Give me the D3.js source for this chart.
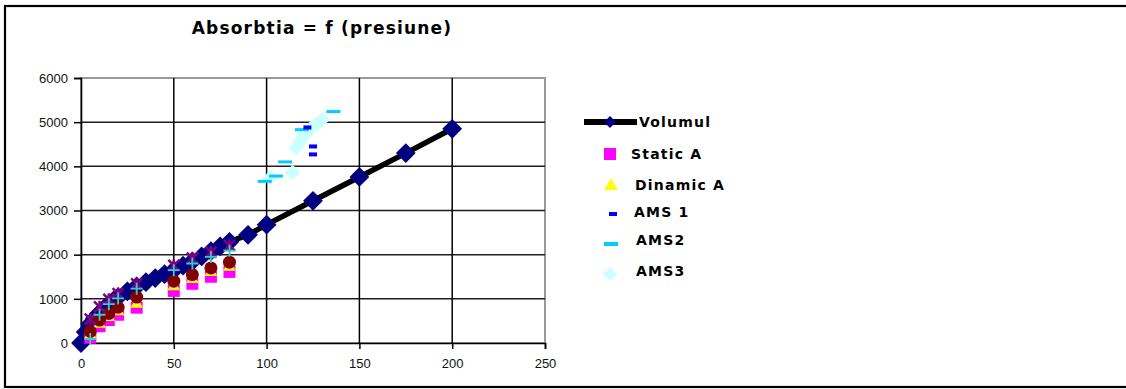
<!DOCTYPE html>
<html>
<head>
<meta charset="utf-8">
<script src="https://cdn.jsdelivr.net/npm/d3@7/dist/d3.min.js"></script>
<style>
  html, body { margin: 0; padding: 0; background: #fff; }
  svg { display: block; }
</style>
</head>
<body>
<svg id="chart" width="1126" height="389"></svg>
<script>
// Absorbtia vs presiune
const xTicks = [0, 50, 100, 150, 200, 250];
const yTicks = [0, 1000, 2000, 3000, 4000, 5000, 6000];

const volumulX = [0, 2.5, 5, 7.5, 10, 12.5, 15, 17.5, 20, 25, 30, 35, 40, 45, 50, 55, 60, 65, 70, 75, 80, 90, 100, 125, 150, 175, 200];
const volumulY = [0, 250, 430, 560, 680, 780, 880, 960, 1040, 1170, 1280, 1380, 1470, 1560, 1650, 1750, 1850, 1960, 2080, 2190, 2290, 2450, 2680, 3220, 3760, 4300, 4850];

const seriesX = [5, 10, 15, 20, 30, 50, 60, 70, 80];
const staticA  = [120, 380, 520, 640, 800, 1180, 1340, 1500, 1610];
const dinamicA = [180, 430, 580, 710, 880, 1280, 1440, 1600, 1720];
const staticB  = [260, 520, 670, 810, 1040, 1400, 1550, 1700, 1830];
const dinamicB = [540, 820, 990, 1120, 1340, 1760, 1920, 2060, 2210];
const medie    = [90, 640, 880, 1010, 1230, 1650, 1800, 1950, 2090];

const ams1X = [122, 125, 125];
const ams1Y = [4880, 4450, 4270];
const ams2X = [99, 105, 110, 119, 136];
const ams2Y = [3660, 3780, 4100, 4830, 5240];
const ams3X = [102, 114, 116, 118, 120, 122, 124, 127, 130];
const ams3Y = [3740, 3860, 4420, 4550, 4680, 4780, 4870, 4960, 5060];

const legendNames = ["Volumul", "Static A", "Dinamic A", "AMS 1", "AMS2", "AMS3"];

const svg = d3.select("#chart");

// outer frame
svg.append("rect")
  .attr("x", 5).attr("y", 6).attr("width", 1140).attr("height", 381)
  .attr("fill", "#fff").attr("stroke", "#000").attr("stroke-width", 2.2);

svg.append("text")
  .attr("x", 322).attr("y", 34)
  .attr("text-anchor", "middle")
  .attr("font-family", "DejaVu Sans, Verdana, sans-serif")
  .attr("font-weight", "bold")
  .attr("font-size", 17)
  .attr("letter-spacing", 1.2)
  .attr("fill", "#000")
  .text("Absorbtia = f (presiune)");

const x = d3.scaleLinear().domain([0, 250]).range([81, 545]);
const y = d3.scaleLinear().domain([0, 6000]).range([343, 78]);

const plot = svg.append("g");

// plot border (grey, top & right)
plot.append("rect")
  .attr("x", x(0)).attr("y", y(6000))
  .attr("width", x(250) - x(0)).attr("height", y(0) - y(6000))
  .attr("fill", "#fff").attr("stroke", "#9a9a9a").attr("stroke-width", 2);

// horizontal gridlines
plot.selectAll(".hg").data(yTicks.filter(d => d > 0 && d < 6000)).join("line")
  .attr("x1", x(0)).attr("x2", x(250))
  .attr("y1", d => y(d)).attr("y2", d => y(d))
  .attr("stroke", "#1e1e1e").attr("stroke-width", 1.5);

// vertical gridlines
plot.selectAll(".vg").data(xTicks.filter(d => d > 0 && d < 250)).join("line")
  .attr("x1", d => x(d)).attr("x2", d => x(d))
  .attr("y1", y(6000)).attr("y2", y(0))
  .attr("stroke", "#000").attr("stroke-width", 1.5);

// axes
const xAxis = d3.axisBottom(x).tickValues(xTicks).tickSize(6).tickPadding(10).tickFormat(d3.format("d"));
const yAxis = d3.axisLeft(y).tickValues(yTicks).tickSize(7).tickPadding(6).tickFormat(d3.format("d"));

const gx = plot.append("g").attr("transform", `translate(0,${y(0)})`).call(xAxis);
const gy = plot.append("g").attr("transform", `translate(${x(0)},0)`).call(yAxis);
[gx, gy].forEach(g => {
  g.select(".domain").attr("stroke", "#000").attr("stroke-width", 1.6);
  g.selectAll(".tick line").attr("stroke", "#000").attr("stroke-width", 1.5);
  g.selectAll(".tick text")
    .attr("font-family", "Liberation Sans, Arial, sans-serif")
    .attr("font-size", 13)
    .attr("fill", "#111");
});
gx.selectAll(".tick text").attr("dy", "0.72em");

// Volumul line
const volPts = volumulX.map((v, i) => [v, volumulY[i]]);
plot.append("path")
  .attr("d", d3.line().x(d => x(d[0])).y(d => y(d[1]))(volPts))
  .attr("fill", "none").attr("stroke", "#000").attr("stroke-width", 5.5)
  .attr("stroke-linejoin", "round");

const sqDiamond = side => d3.symbol().type(d3.symbolSquare).size(side * side);

plot.selectAll(".vol").data(volPts).join("path")
  .attr("d", sqDiamond(14))
  .attr("transform", d => `translate(${x(d[0])},${y(d[1])}) rotate(45)`)
  .attr("fill", "#000080");

const pts = vals => seriesX.map((v, i) => [v, vals[i]]);

// Static A
plot.selectAll(".sa").data(pts(staticA)).join("rect")
  .attr("x", d => x(d[0]) - 6).attr("y", d => y(d[1]) - 6)
  .attr("width", 12).attr("height", 12)
  .attr("fill", "#ff00ff");

// Dinamic A
plot.selectAll(".da").data(pts(dinamicA)).join("path")
  .attr("d", d3.symbol().type(d3.symbolTriangle).size(70))
  .attr("transform", d => `translate(${x(d[0])},${y(d[1])})`)
  .attr("fill", "#ffff00");

// AMS3
plot.selectAll(".a3").data(ams3X.map((v, i) => [v, ams3Y[i]])).join("path")
  .attr("d", sqDiamond(11))
  .attr("transform", d => `translate(${x(d[0])},${y(d[1])}) rotate(45)`)
  .attr("fill", "#ccffff");

// AMS2
plot.selectAll(".a2").data(ams2X.map((v, i) => [v, ams2Y[i]])).join("rect")
  .attr("x", d => x(d[0]) - 7).attr("y", d => y(d[1]) - 1.5)
  .attr("width", 14).attr("height", 3)
  .attr("fill", "#00ccff");

// AMS 1
plot.selectAll(".a1").data(ams1X.map((v, i) => [v, ams1Y[i]])).join("rect")
  .attr("x", d => x(d[0]) - 4).attr("y", d => y(d[1]) - 2)
  .attr("width", 8).attr("height", 4)
  .attr("fill", "#0000ff");

// remaining series (no legend entry)
plot.selectAll(".sb").data(pts(staticB)).join("circle")
  .attr("cx", d => x(d[0])).attr("cy", d => y(d[1])).attr("r", 6.5)
  .attr("fill", "#800000");

plot.selectAll(".db").data(pts(dinamicB)).join("path")
  .attr("d", "M0,-6V6M-5.5,-5.5L5.5,5.5M-5.5,5.5L5.5,-5.5")
  .attr("transform", d => `translate(${x(d[0])},${y(d[1])})`)
  .attr("fill", "none").attr("stroke", "#800080").attr("stroke-width", 2.5);

plot.selectAll(".md").data(pts(medie)).join("path")
  .attr("d", "M0,-6V6M-6,0H6")
  .attr("transform", d => `translate(${x(d[0])},${y(d[1])})`)
  .attr("fill", "none").attr("stroke", "#33cccc").attr("stroke-width", 1.8);

// legend
const leg = svg.append("g")
  .attr("font-family", "DejaVu Sans, Verdana, sans-serif")
  .attr("font-weight", "bold")
  .attr("font-size", 14)
  .attr("letter-spacing", 1.2)
  .attr("fill", "#000");

const legRows = [
  { name: legendNames[0], y: 122, tx: 639 },
  { name: legendNames[1], y: 154, tx: 631 },
  { name: legendNames[2], y: 185, tx: 635 },
  { name: legendNames[3], y: 212, tx: 634 },
  { name: legendNames[4], y: 240, tx: 636 },
  { name: legendNames[5], y: 271, tx: 636 }
];
legRows.forEach(r => {
  leg.append("text").attr("x", r.tx).attr("y", r.y).attr("dy", "0.36em").text(r.name);
});

leg.append("line").attr("x1", 584).attr("x2", 637).attr("y1", 122).attr("y2", 122)
  .attr("stroke", "#000").attr("stroke-width", 6);
leg.append("path").attr("d", sqDiamond(8.5))
  .attr("transform", "translate(610,122) rotate(45)").attr("fill", "#000080");
leg.append("rect").attr("x", 604).attr("y", 148).attr("width", 12).attr("height", 12).attr("fill", "#ff00ff");
leg.append("path").attr("d", d3.symbol().type(d3.symbolTriangle).size(80))
  .attr("transform", "translate(611,186)").attr("fill", "#ffff00");
leg.append("rect").attr("x", 609).attr("y", 212).attr("width", 8).attr("height", 4).attr("fill", "#0000ff");
leg.append("rect").attr("x", 604).attr("y", 242).attr("width", 14).attr("height", 4).attr("fill", "#00ccff");
leg.append("path").attr("d", sqDiamond(10))
  .attr("transform", "translate(610,274) rotate(45)").attr("fill", "#ccffff");
</script>
</body>
</html>
